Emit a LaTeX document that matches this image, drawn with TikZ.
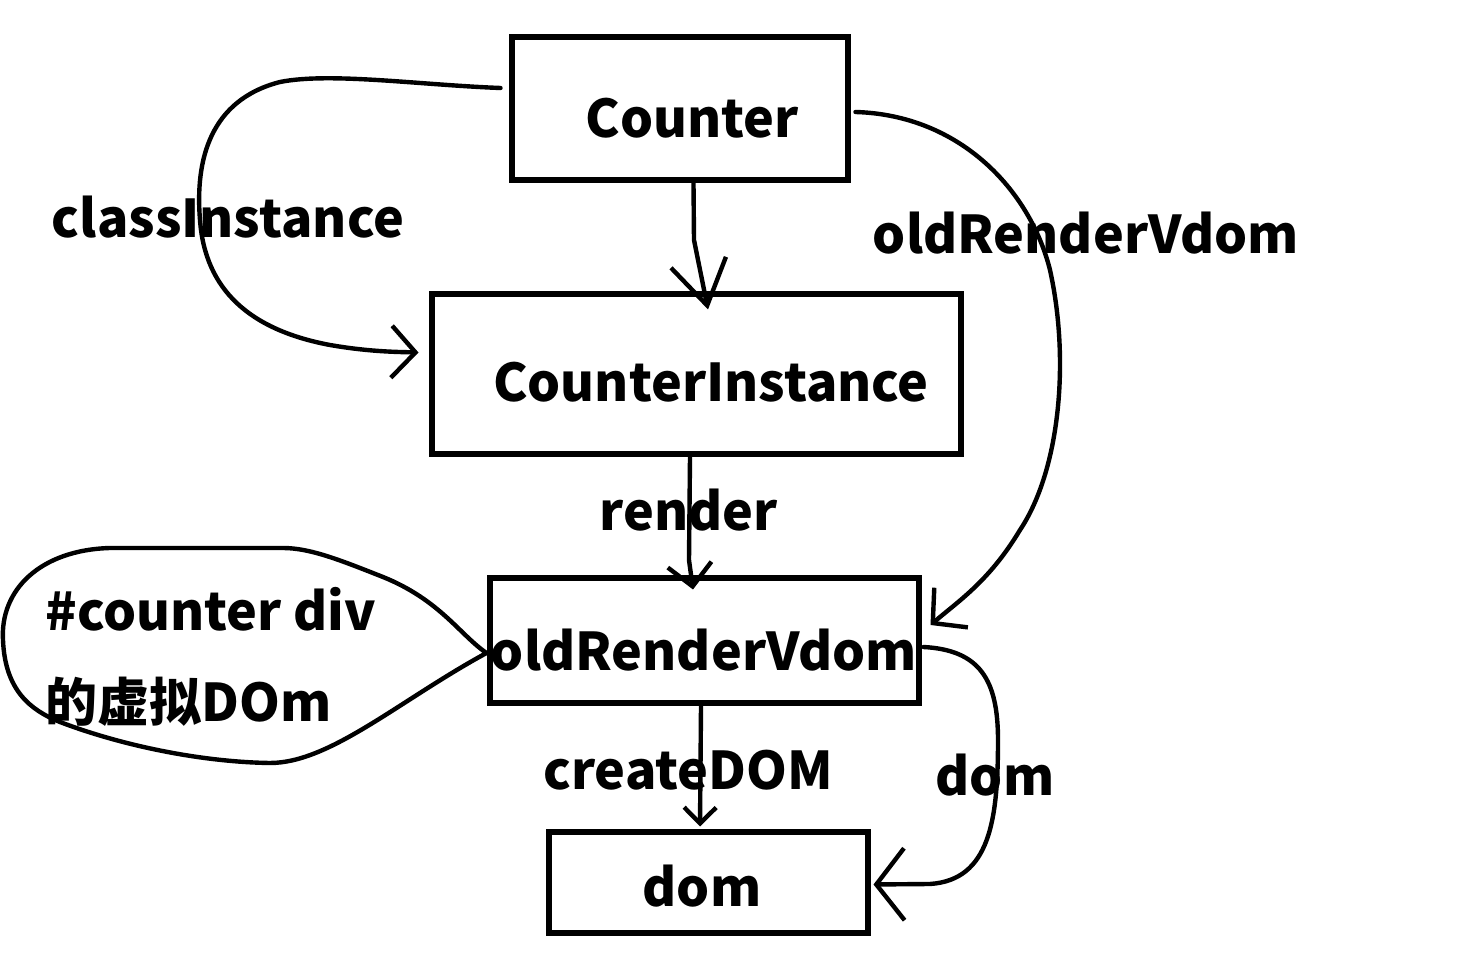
\documentclass[tikz,border=0pt]{standalone}
\usepackage{fontspec}
\setmainfont{Noto Sans CJK SC}
\usetikzlibrary{arrows.meta,calc}
\begin{document}
\begin{tikzpicture}[x=0.5pt,y=-0.5pt,
  box/.style={draw,line width=3pt,inner sep=0pt},
  lbl/.style={inner sep=0pt,font=\fontsize{26}{31}\selectfont\bfseries},
  conn/.style={line width=2.2pt,line cap=round,line join=round},
  arr/.style 2 args={conn,-{Straight Barb[length=#1,width=#2,line width=2.2pt]}}]
\fill[white] (0,0) rectangle (1480,962);
\useasboundingbox (0,0) rectangle (1480,962);
% boxes
\node[box,minimum width=168pt,minimum height=71.5pt] (counter) at (679.5,109) {};
\node[box,minimum width=264.5pt,minimum height=80pt] (ci) at (696,374.5) {};
\node[box,minimum width=214.5pt,minimum height=62.5pt] (ovd) at (704,641) {};
\node[box,minimum width=159.5pt,minimum height=50pt] (dombox) at (708,882.5) {};
% box texts
\node[lbl] (tcounter) at (692,118) {Counter};
\node[lbl] (tci) at (711,382) {CounterInstance};
\node[lbl] (tovd) at (704,650) {oldRenderVdom};
\node[lbl] (tdom) at (702,886) {dom};
% labels
\node[lbl] (lclass) at (228,217) {classInstance};
\node[lbl] (lold) at (1086,233) {oldRenderVdom};
\node[lbl] (lrender) at (689,510) {render};
\node[lbl] (lcreate) at (688,770) {createDOM};
\node[lbl] (ldom) at (995,775) {dom};
\node[lbl,anchor=west] (lhash) at (45,609) {\#counter div};
\node[lbl,anchor=west] (lvirt) at (45,702) {的虚拟DOm};
% connectors
\draw[arr={22pt}{28pt}] ($(counter.south)+(14,0)$) -- (694,240) -- ($(ci.north)+(12,18)$);
\draw[arr={12pt}{26pt}] ($(counter.west)+(-8,-21)$) .. controls (420,85) and (330,72) .. (280,82)
  .. controls (210,100) and (195,160) .. (200,220)
  .. controls (205,290) and (250,330) .. (330,345)
  .. controls (370,352) and (400,352) .. ($(ci.west)+(-10,-22)$);
\draw[arr={12pt}{26pt}] ($(counter.east)+(5,3)$) .. controls (960,115) and (1030,190) .. (1050,270)
  .. controls (1070,360) and (1060,470) .. (1020,530)
  .. controls (990,580) and (960,600) .. ($(ovd.east)+(9,-16)$);
\draw[arr={11pt}{22pt}] ($(ci.south)+(-6,0)$) -- (689,560) -- ($(ovd.north)+(-11,14)$);
\draw[arr={8pt}{16pt}] ($(ovd.south)+(-3,0)$) -- ($(dombox.north)+(-8,-3)$);
\draw[arr={14pt}{36pt}] ($(ovd.east)+(2,6)$) .. controls (980,650) and (998,680) .. (998,740)
  .. controls (998,820) and (990,880) .. (930,884) -- ($(dombox.east)+(3,2)$);
% bubble
\draw[conn] ($(ovd.west)+(0,12)$) .. controls (460,635) and (440,600) .. (383,577)
  .. controls (340,560) and (310,548) .. (283,548) -- (110,548)
  .. controls (40,550) and (0,590) .. (3,640)
  .. controls (5,690) and (30,710) .. (60,722)
  .. controls (120,745) and (200,762) .. (270,763)
  .. controls (330,763) and (400,700) .. ($(ovd.west)+(0,12)$);
\end{tikzpicture}
\end{document}
